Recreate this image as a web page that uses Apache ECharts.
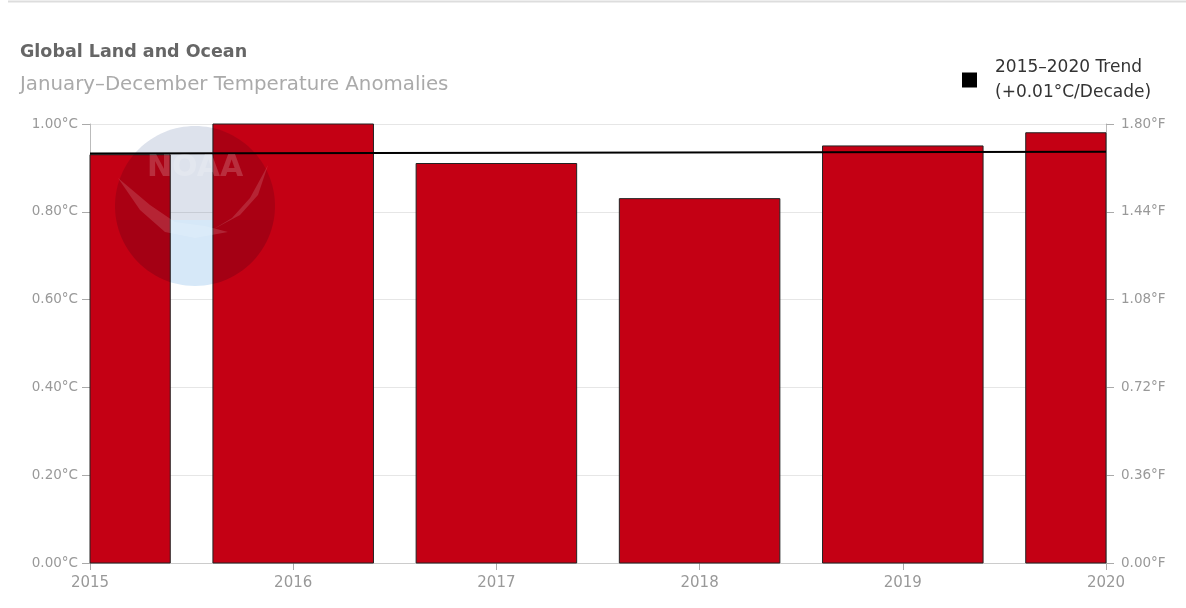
<!DOCTYPE html>
<html><head><meta charset="utf-8">
<script src="https://cdn.jsdelivr.net/npm/echarts@6/dist/echarts.min.js"></script>
<style>html,body{margin:0;padding:0;background:#fff}#c{width:1186px;height:608px}</style>
</head><body><div id="c"></div>
<script>
const years = [2015, 2016, 2017, 2018, 2019, 2020];
const anomaliesC = [0.93, 1.00, 0.91, 0.83, 0.95, 0.98];
const trendYears = [2015, 2020];
const trendValues = [0.933, 0.937];
const title = 'Global Land and Ocean';
const subtitle = 'January–December Temperature Anomalies';
const legendLabel = '2015–2020 Trend\n(+0.01°C/Decade)';

const BAR_SPAN = 0.79; // bar width in years
const font = 'DejaVu Sans, Liberation Sans, sans-serif';

// watermark regions (decoration only)
const cx = 195, cy = 206, r = 80, splitY = 220;
const a0 = Math.asin((splitY - cy) / r);
function arcPts(from, to, n) {
  const pts = [];
  for (let i = 0; i <= n; i++) {
    const a = from + (to - from) * i / n;
    pts.push([cx + r * Math.cos(a), cy + r * Math.sin(a)]);
  }
  return pts;
}
const lowerPts = arcPts(a0, Math.PI - a0, 48);
const upperPts = arcPts(Math.PI - a0, 2 * Math.PI + a0, 72);

const chart = echarts.init(document.getElementById('c'), null, {renderer: 'canvas'});
chart.setOption({
  animation: false,
  title: [
    {text: title, left: 15, top: 38, padding: 5, textStyle: {fontFamily: font, fontSize: 17.5, fontWeight: 'bold', color: '#666'}},
    {text: subtitle, left: 15, top: 70, padding: 5, textStyle: {fontFamily: font, fontSize: 19.8, fontWeight: 'normal', color: '#aaa'}}
  ],
  legend: {
    left: 962, top: 55, itemWidth: 15, itemHeight: 15, icon: 'rect', padding: 0,
    data: [{name: legendLabel, itemStyle: {color: '#000'}}],
    textStyle: {fontFamily: font, fontSize: 17, color: '#333', lineHeight: 25, padding: [0, 0, 0, 13]}
  },
  grid: {left: 90, right: 80, top: 124, bottom: 45},
  xAxis: {
    type: 'value', min: 2015, max: 2020, interval: 1,
    axisLine: {show: true, lineStyle: {color: '#ccc'}},
    axisTick: {show: true, length: 7, lineStyle: {color: '#aaa'}},
    axisLabel: {fontFamily: font, fontSize: 15, color: '#999', margin: 13, formatter: v => String(v)},
    splitLine: {show: false}
  },
  yAxis: [
    {
      type: 'value', min: 0, max: 1, interval: 0.2,
      axisLine: {show: true, lineStyle: {color: '#bbb'}},
      axisTick: {show: true, length: 8, lineStyle: {color: '#aaa'}},
      axisLabel: {fontFamily: font, fontSize: 13.5, color: '#999', margin: 12, formatter: v => v.toFixed(2) + '°C'},
      splitLine: {show: true, lineStyle: {color: '#e6e6e6'}}
    },
    {
      type: 'value', min: 0, max: 1.8, interval: 0.36, position: 'right',
      axisLine: {show: true, lineStyle: {color: '#bbb'}},
      axisTick: {show: true, length: 8, lineStyle: {color: '#aaa'}},
      axisLabel: {fontFamily: font, fontSize: 13.5, color: '#999', margin: 15, formatter: v => v.toFixed(2) + '°F'},
      splitLine: {show: false}
    }
  ],
  series: [
    {
      type: 'custom', name: 'Anomaly', z: 2,
      data: years.map((y, i) => [y, anomaliesC[i]]),
      renderItem: function (params, api) {
        const x = api.value(0), v = api.value(1);
        const p0 = api.coord([x, 0]);
        const p1 = api.coord([x, v]);
        const w = api.size([BAR_SPAN, 0])[0];
        const rect = echarts.graphic.clipRectByRect(
          {x: p0[0] - w / 2, y: p1[1], width: w, height: p0[1] - p1[1]},
          {x: params.coordSys.x, y: params.coordSys.y, width: params.coordSys.width, height: params.coordSys.height}
        );
        if (!rect) return;
        return {type: 'rect', shape: rect, style: {fill: '#c40014', stroke: '#222', lineWidth: 1}};
      }
    },
    {
      type: 'line', name: legendLabel, showSymbol: false, symbol: 'none', z: 5,
      data: trendYears.map((y, i) => [y, trendValues[i]]),
      lineStyle: {color: '#000', width: 2}, itemStyle: {color: '#000'}
    }
  ],
  graphic: [
    {type: 'line', shape: {x1: 8, y1: 1.5, x2: 1186, y2: 1.5}, style: {stroke: '#ddd', lineWidth: 2}, silent: true},
    {type: 'polygon', shape: {points: upperPts}, style: {fill: '#dde2ec', blend: 'multiply'}, z: 100, silent: true},
    {type: 'polygon', shape: {points: lowerPts}, style: {fill: '#d6e8f8', blend: 'multiply'}, z: 100, silent: true},
    {type: 'polygon', shape: {points: [[118, 178], [140, 210], [165, 232], [195, 238], [228, 232], [205, 226], [175, 222], [150, 205]]}, style: {fill: 'rgba(255,255,255,0.14)'}, z: 102, silent: true},
    {type: 'polygon', shape: {points: [[268, 165], [258, 195], [240, 215], [212, 230], [232, 218], [250, 198]]}, style: {fill: 'rgba(255,255,255,0.14)'}, z: 102, silent: true},
    {type: 'text', style: {x: 195, y: 168, text: 'NOAA', fill: 'rgba(255,255,255,0.18)', font: 'bold 30px ' + font, align: 'center', verticalAlign: 'middle'}, z: 102, silent: true}
  ]
});
</script></body></html>
